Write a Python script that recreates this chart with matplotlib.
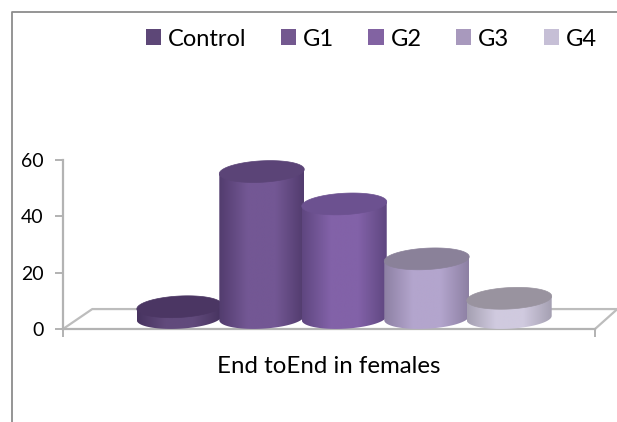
import numpy as np
import matplotlib
matplotlib.use("Agg")
import matplotlib.pyplot as plt
from matplotlib.colors import LinearSegmentedColormap
from matplotlib.patches import Patch, Polygon
from matplotlib.lines import Line2D

groups = ["Control", "G1", "G2", "G3", "G4"]
values = [4, 52, 40.5, 21, 7]
category = "End toEnd in females"
yticks = [0, 20, 40, 60]
legend_colors = ["#5d4777", "#73588f", "#8263a2", "#a899bd", "#c6bfd6"]
edge_colors = ["#47335f", "#523c6e", "#5f4680", "#8d80a3", "#a5a0b2"]
mid_colors = ["#614a7c", "#735794", "#8262a8", "#b3a5cd", "#d0cadf"]
cap_colors = ["#4b3663", "#5b4477", "#6c5190", "#8a8199", "#99939f"]

W, H = 617, 422
plt.rcParams["font.family"] = ["Lato", "DejaVu Sans"]
fig = plt.figure(figsize=(W / 100, H / 100), dpi=100, facecolor="white")
ax = fig.add_axes([63 / W, 1 - 329 / H, (595 - 63) / W, (329 - 160) / H])
ax.set_xlim(-1.41, 5.04)
ax.set_ylim(0, 60)
ax.patch.set_alpha(0)

for s in ("top", "right"):
    ax.spines[s].set_visible(False)
for s in ("left", "bottom"):
    ax.spines[s].set_color("#b3b3b3")
    ax.spines[s].set_linewidth(1.6)
ax.set_yticks(yticks)
ax.set_xticks([-1.41, 5.04])
ax.set_xticklabels(["", ""])
ax.tick_params(axis="both", color="#a6a6a6", width=1.2, length=6, labelsize=14, labelcolor="black", pad=8)
ax.text(0.5, -0.219, category, transform=ax.transAxes, ha="center", va="center", fontsize=17.3, color="black")

# floor of the 3D plot, in axes fractions
floor = dict(color="#bdbdbd", lw=1.6, transform=ax.transAxes, clip_on=False, zorder=1)
ax.add_line(Line2D([0, 0.055, 1.042], [0, 0.118, 0.118], **floor))
ax.add_line(Line2D([1, 1.042], [0, 0.118], **floor))

half_w, half_h, base, shear = 0.515, 3.8, 3.9, 1.5
t = np.linspace(0, 2 * np.pi, 120)
low = t[(t >= np.pi) & (t <= 2 * np.pi)]
for i, v in enumerate(values):
    z = 3 + i
    top = v + base
    ex = half_w * np.cos(t)
    cap = np.c_[i + ex, top + half_h * np.sin(t) + shear * ex]
    lx = half_w * np.cos(low)
    bottom = np.c_[i + lx, base + half_h * np.sin(low) + shear * lx]
    outline = np.vstack([bottom, [[i + half_w, top + shear * half_w]], [[i - half_w, top - shear * half_w]]])
    cmap = LinearSegmentedColormap.from_list("c", [edge_colors[i], mid_colors[i], mid_colors[i], edge_colors[i]])
    grad = np.linspace(0, 1, 128).reshape(1, -1)
    body = Polygon(outline, closed=True, transform=ax.transData, fc="none", ec="none")
    ax.add_patch(body)
    im = ax.imshow(grad, cmap=cmap, aspect="auto", extent=(i - half_w, i + half_w, 0, top + 6), zorder=z, interpolation="bilinear")
    im.set_clip_path(body)
    ax.add_patch(Polygon(cap, closed=True, fc=cap_colors[i], ec=cap_colors[i], lw=0.5, zorder=z + 0.5, clip_on=False))
ax.set_xlim(-1.41, 5.04)
ax.set_ylim(0, 60)

handles = [Patch(fc=c, ec="none") for c in legend_colors]
fig.legend(handles, groups, loc="center left", bbox_to_anchor=(146 / W, 1 - 39 / H), ncol=5, frameon=False,
           fontsize=17, handlelength=0.64, handleheight=0.64, handletextpad=0.3, columnspacing=1.45,
           borderpad=0, borderaxespad=0)

# chart border
border = dict(color="#8c8c8c", lw=1.3, transform=fig.transFigure)
fig.add_artist(Line2D([12 / W, 12 / W, 1], [0, 1 - 11.5 / H, 1 - 11.5 / H], **border))

fig.savefig("out.png", dpi=100, facecolor="white")
